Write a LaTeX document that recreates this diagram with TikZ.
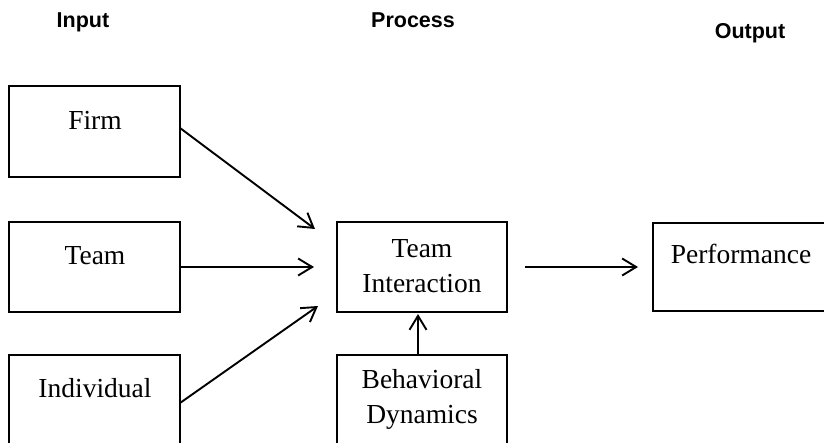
\documentclass[tikz,border=0pt]{standalone}
\usepackage{fontspec}
\setmainfont{Liberation Serif}
\newfontfamily\hdrfont{Liberation Sans}
\usetikzlibrary{arrows.meta}
\tikzset{
  box/.style={draw=black, line width=2pt, rectangle, inner sep=0pt, outer sep=0pt},
  boxtext/.style={font=\fontsize{27.5}{35}\selectfont, inner sep=0pt, align=center},
  hdr/.style={font=\hdrfont\bfseries\fontsize{21.5}{24}\selectfont, inner sep=0pt, anchor=base},
  arr/.style={line width=1.9pt, -{Straight Barb[length=14pt,width=17pt,line width=1.9pt]}}
}
\begin{document}
\begin{tikzpicture}[x=1pt,y=-1pt]
\useasboundingbox (0,0) rectangle (824,442);
\clip (0,0) rectangle (824,442);
% headers
\node[hdr] (hin) at (83,27) {Input};
\node[hdr] (hproc) at (413,27) {Process};
\node[hdr] (hout) at (750,38) {Output};
% boxes
\node[box, minimum width=171pt, minimum height=91pt] (firm) at (94.5,131.5) {};
\node[box, minimum width=171pt, minimum height=90pt] (team) at (94.5,267) {};
\node[box, minimum width=171pt, minimum height=110pt] (indiv) at (94.5,410) {};
\node[box, minimum width=170pt, minimum height=90pt] (ti) at (422,267) {};
\node[box, minimum width=170pt, minimum height=110pt] (bd) at (422,410) {};
\node[box, minimum width=190pt, minimum height=88pt] (perf) at (748,267) {};
% texts
\node[boxtext, anchor=base] (firmt) at (95,129) {Firm};
\node[boxtext, anchor=base] (teamt) at (95,264) {Team};
\node[boxtext, anchor=base] (indivt) at (95,397) {Individual};
\node[boxtext, anchor=base] (perft) at (741,263) {Performance};
\node[boxtext, anchor=base] (tit1) at (422,257) {Team};
\node[boxtext, anchor=base] (tit2) at (422,292) {Interaction};
\node[boxtext, anchor=base] (bdt1) at (422,388) {Behavioral};
\node[boxtext, anchor=base] (bdt2) at (422,423) {Dynamics};
% arrow ends
\coordinate (e1) at (315,229);
\coordinate (e3) at (318,306);
% connectors
\draw[arr] ([yshift=3.5pt]firm.east) -- (e1);
\draw[arr, shorten >=23pt] (team.east) -- (ti.west);
\draw[arr] ([yshift=7pt]indiv.east) -- (e3);
\draw[arr, shorten <=18pt, shorten >=15pt] (ti.east) -- (perf.west);
\draw[arr, shorten >=2pt] ([xshift=-4pt]bd.north) -- ([xshift=-4pt]ti.south);
\end{tikzpicture}
\end{document}
